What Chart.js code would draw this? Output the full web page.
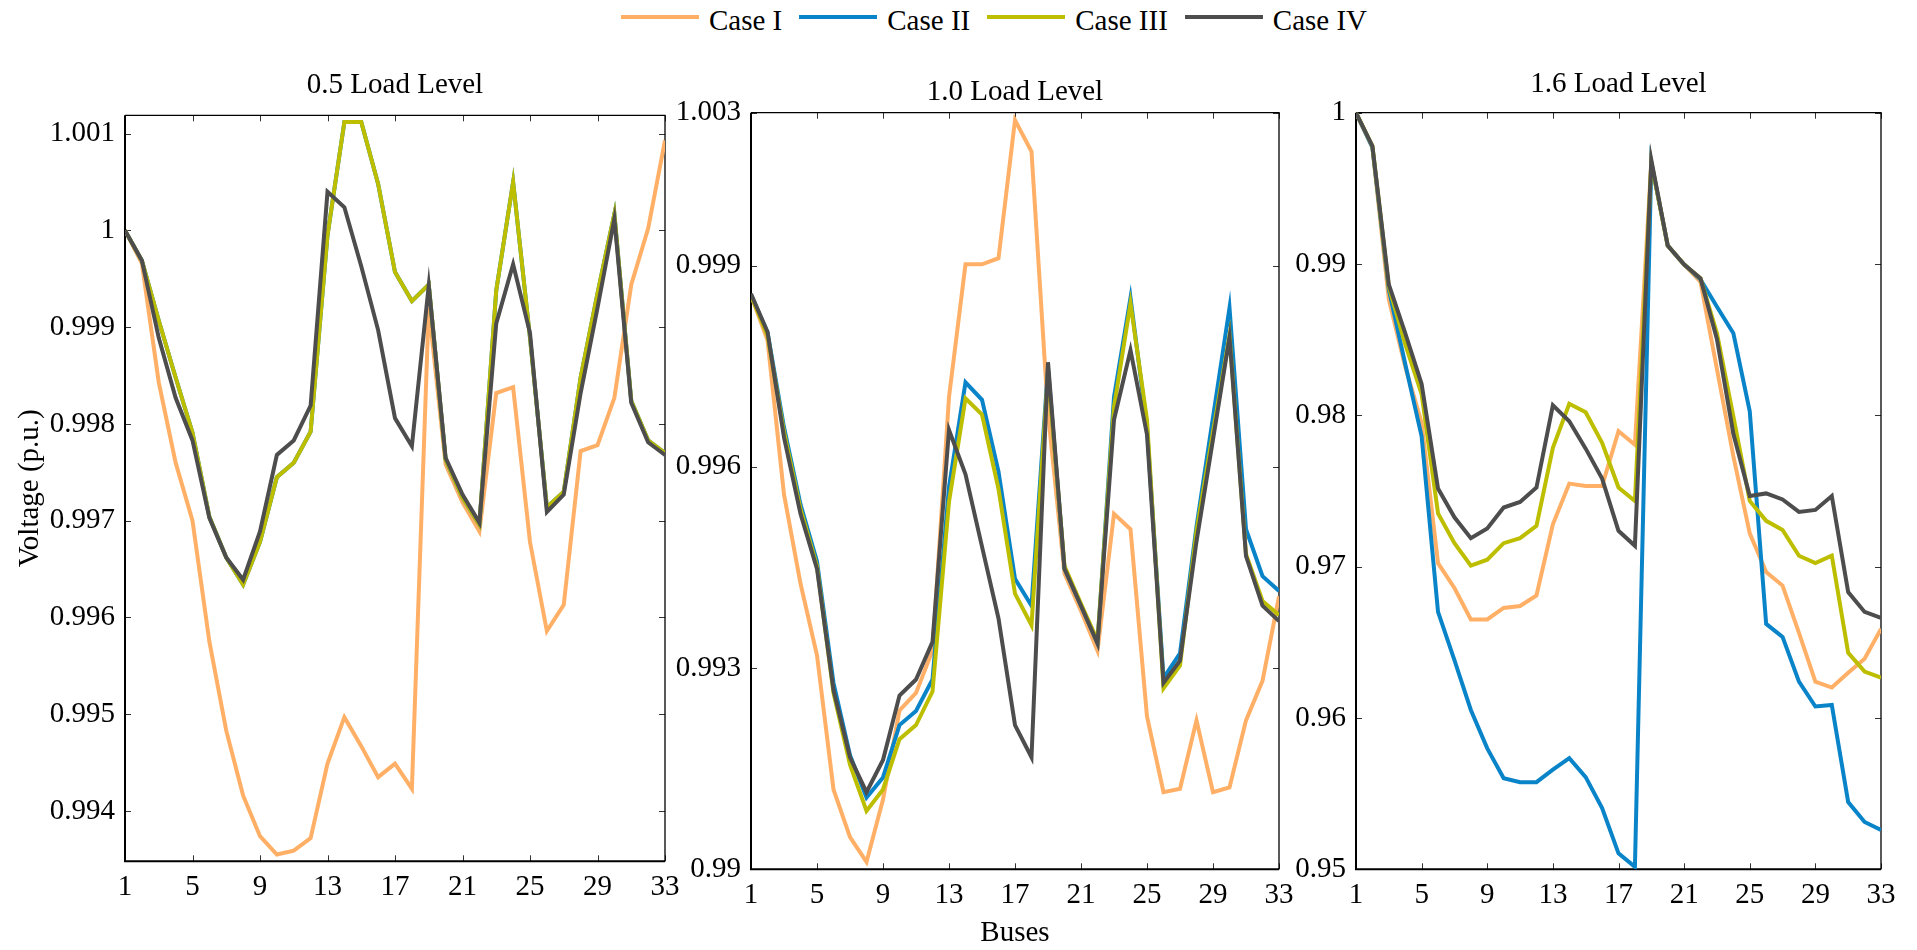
<!DOCTYPE html>
<html>
<head>
<meta charset="utf-8">
<script src="https://cdn.jsdelivr.net/npm/chart.js@4.4.1/dist/chart.umd.min.js"></script>
<style>
  html, body { margin: 0; padding: 0; background: #ffffff; }
  body { width: 1917px; height: 950px; position: relative; overflow: hidden; font-family: 'Liberation Serif', 'Times New Roman', serif; }
  .panel { position: absolute; top: 0; height: 950px; }
  #legend { position: absolute; left: 621px; top: 0; height: 34px; display: flex; align-items: center; }
  .item { display: flex; align-items: center; margin-right: 17px; }
  .swatch { width: 78px; height: 4px; margin-right: 10px; }
  .ltxt { font-size: 29px; color: #000; position: relative; top: 3px; white-space: nowrap; }
</style>
</head>
<body>
<div id="legend"></div>
<div class="panel" style="left:0px;width:700px;"><canvas id="c1"></canvas></div>
<div class="panel" style="left:651px;width:660px;"><canvas id="c2"></canvas></div>
<div class="panel" style="left:1256px;width:661px;"><canvas id="c3"></canvas></div>
<script>
// ---------------- data ----------------
const buses = [1,2,3,4,5,6,7,8,9,10,11,12,13,14,15,16,17,18,19,20,21,22,23,24,25,26,27,28,29,30,31,32,33];
const busTicks = [1,5,9,13,17,21,25,29,33];
const caseNames = ['Case I','Case II','Case III','Case IV'];
const caseColors = ['#FFB066','#0A84C8','#BEBE00','#4D4D4D'];
const panelTitles = ['0.5 Load Level','1.0 Load Level','1.6 Load Level'];

// 0.5 load level
const caseI_05   = [1.00000,0.99966,0.99843,0.99760,0.99700,0.99575,0.99483,0.99416,0.99374,0.99355,0.99359,0.99372,0.99449,0.99497,0.99467,0.99435,0.99449,0.99423,0.99920,0.99758,0.99719,0.99689,0.99832,0.99838,0.99678,0.99586,0.99613,0.99772,0.99778,0.99827,0.99944,1.00002,1.00093];
const caseII_05  = [1.00000,0.99969,0.99907,0.99848,0.99791,0.99704,0.99662,0.99634,0.99678,0.99745,0.99760,0.99792,0.99995,1.00112,1.00112,1.00048,0.99957,0.99927,0.99944,0.99763,0.99724,0.99696,0.99938,1.00050,0.99889,0.99714,0.99730,0.99848,0.99935,1.00017,0.99824,0.99783,0.99770];
const caseIII_05 = [1.00000,0.99969,0.99907,0.99848,0.99791,0.99704,0.99662,0.99634,0.99678,0.99745,0.99760,0.99792,0.99995,1.00112,1.00112,1.00048,0.99957,0.99927,0.99944,0.99763,0.99724,0.99696,0.99938,1.00050,0.99889,0.99714,0.99730,0.99848,0.99935,1.00017,0.99824,0.99783,0.99770];
const caseIV_05  = [1.00000,0.99969,0.99889,0.99827,0.99783,0.99703,0.99662,0.99639,0.99689,0.99768,0.99783,0.99819,1.00040,1.00024,0.99963,0.99897,0.99806,0.99777,0.99943,0.99765,0.99727,0.99698,0.99904,0.99965,0.99894,0.99709,0.99727,0.99832,0.99920,1.00012,0.99822,0.99781,0.99768];

// 1.0 load level
const caseI_10   = [0.99856,0.99789,0.99559,0.99426,0.99319,0.99119,0.99048,0.99011,0.99104,0.99237,0.99263,0.99326,0.99704,0.99902,0.99902,0.99911,1.00117,1.00070,0.99680,0.99441,0.99385,0.99326,0.99530,0.99507,0.99228,0.99115,0.99120,0.99222,0.99115,0.99122,0.99222,0.99281,0.99407];
const caseII_10  = [0.99856,0.99801,0.99659,0.99544,0.99459,0.99278,0.99170,0.99107,0.99137,0.99215,0.99236,0.99283,0.99570,0.99726,0.99700,0.99593,0.99433,0.99393,0.99748,0.99448,0.99393,0.99337,0.99704,0.99852,0.99659,0.99285,0.99322,0.99511,0.99674,0.99837,0.99507,0.99437,0.99415];
const caseIII_10 = [0.99856,0.99796,0.99652,0.99537,0.99452,0.99263,0.99156,0.99087,0.99119,0.99194,0.99215,0.99265,0.99548,0.99702,0.99678,0.99567,0.99411,0.99364,0.99741,0.99452,0.99396,0.99341,0.99689,0.99844,0.99670,0.99270,0.99304,0.99504,0.99652,0.99796,0.99470,0.99400,0.99379];
const caseIV_10  = [0.99858,0.99801,0.99644,0.99530,0.99448,0.99267,0.99167,0.99115,0.99163,0.99259,0.99283,0.99339,0.99655,0.99589,0.99481,0.99374,0.99215,0.99167,0.99756,0.99448,0.99393,0.99337,0.99670,0.99774,0.99648,0.99278,0.99311,0.99489,0.99641,0.99793,0.99467,0.99393,0.99370];

// 1.6 load level
const caseI_16   = [1.00000,0.99770,0.98766,0.98322,0.97950,0.97023,0.96859,0.96651,0.96651,0.96727,0.96740,0.96809,0.97280,0.97549,0.97533,0.97533,0.97895,0.97806,0.99671,0.99122,0.98997,0.98882,0.98306,0.97730,0.97220,0.96964,0.96875,0.96562,0.96240,0.96201,0.96299,0.96391,0.96589];
const caseII_16  = [1.00000,0.99770,0.98832,0.98339,0.97862,0.96701,0.96382,0.96053,0.95799,0.95602,0.95576,0.95576,0.95658,0.95734,0.95609,0.95405,0.95105,0.95016,0.99671,0.99122,0.98997,0.98898,0.98717,0.98543,0.98026,0.96622,0.96536,0.96240,0.96076,0.96086,0.95444,0.95313,0.95260];
const caseIII_16 = [1.00000,0.99780,0.98849,0.98470,0.98141,0.97352,0.97155,0.97007,0.97046,0.97155,0.97188,0.97270,0.97786,0.98076,0.98020,0.97819,0.97523,0.97434,0.99671,0.99122,0.98997,0.98905,0.98543,0.97993,0.97434,0.97303,0.97243,0.97072,0.97023,0.97072,0.96431,0.96306,0.96266];
const caseIV_16  = [1.00000,0.99780,0.98865,0.98543,0.98207,0.97516,0.97326,0.97188,0.97253,0.97391,0.97428,0.97523,0.98066,0.97961,0.97780,0.97582,0.97237,0.97138,0.99688,0.99122,0.98997,0.98905,0.98503,0.97878,0.97467,0.97484,0.97444,0.97362,0.97375,0.97467,0.96832,0.96701,0.96661];

// y axis ranges and ticks
const yRange05 = [0.99348, 1.00119];
const yTicks05 = [0.994,0.995,0.996,0.997,0.998,0.999,1.000,1.001];
const yLabels05 = ['0.994','0.995','0.996','0.997','0.998','0.999','1','1.001'];
const yRange10 = [0.99, 1.00128];
const yTicks10 = [0.990,0.993,0.996,0.999,1.00128];
const yLabels10 = ['0.99','0.993','0.996','0.999','1.003'];
const yRange16 = [0.95, 1.0];
const yTicks16 = [0.95,0.96,0.97,0.98,0.99,1.0];
const yLabels16 = ['0.95','0.96','0.97','0.98','0.99','1'];

// ---------------- legend (HTML) ----------------
const legendEl = document.getElementById('legend');
caseNames.forEach((n, i) => {
  const it = document.createElement('div'); it.className = 'item';
  const sw = document.createElement('span'); sw.className = 'swatch'; sw.style.background = caseColors[i];
  const tx = document.createElement('span'); tx.className = 'ltxt'; tx.textContent = n;
  it.appendChild(sw); it.appendChild(tx); legendEl.appendChild(it);
});

// ---------------- chart helpers ----------------
const FONT = "'Liberation Serif', 'Times New Roman', serif";

const frameTicks = {
  id: 'frameTicks',
  beforeDatasetsDraw(chart) {
    const {ctx, chartArea: a, scales: {x, y}} = chart;
    ctx.save();
    ctx.strokeStyle = '#333333';
    ctx.lineWidth = 1;
    const L = 6;
    ctx.beginPath();
    x.ticks.forEach(t => {
      const px = Math.round(x.getPixelForValue(t.value)) + 0.5;
      ctx.moveTo(px, a.bottom); ctx.lineTo(px, a.bottom - L);
      ctx.moveTo(px, a.top); ctx.lineTo(px, a.top + L);
    });
    y.ticks.forEach(t => {
      const py = Math.round(y.getPixelForValue(t.value)) + 0.5;
      ctx.moveTo(a.left, py); ctx.lineTo(a.left + L, py);
      ctx.moveTo(a.right, py); ctx.lineTo(a.right - L, py);
    });
    ctx.stroke();
    ctx.strokeStyle = '#000000';
    ctx.lineWidth = 1.3;
    ctx.beginPath();
    ctx.moveTo(a.left, a.top); ctx.lineTo(a.right, a.top); ctx.lineTo(a.right, a.bottom);
    ctx.stroke();
    ctx.lineWidth = 2;
    ctx.beginPath();
    ctx.moveTo(a.left, a.top); ctx.lineTo(a.left, a.bottom); ctx.lineTo(a.right, a.bottom);
    ctx.stroke();
    ctx.restore();
  }
};

function makePanel(id, cfg) {
  const datasets = cfg.series.map((vals, i) => ({
    label: caseNames[i],
    data: buses.map((b, k) => ({x: b, y: vals[k]})),
    borderColor: caseColors[i],
    backgroundColor: caseColors[i],
    borderWidth: 4,
    pointRadius: 0,
    tension: 0,
    fill: false,
    order: caseNames.length - 1 - i   // later cases drawn on top
  }));
  return new Chart(document.getElementById(id), {
    type: 'line',
    data: { datasets },
    options: {
      responsive: true,
      maintainAspectRatio: false,
      animation: false,
      devicePixelRatio: 1,
      layout: { padding: { top: cfg.padTop, right: cfg.padRight, bottom: 0, left: 0 } },
      plugins: {
        legend: { display: false },
        tooltip: { enabled: false },
        title: {
          display: true, text: cfg.title, fullSize: false, color: '#000',
          font: { family: FONT, size: 29, weight: 'normal', lineHeight: 1 },
          padding: { top: 0, bottom: cfg.titleGap }
        }
      },
      scales: {
        x: {
          type: 'linear', min: 1, max: 33,
          grid: { display: false, drawTicks: false },
          border: { display: false },
          afterBuildTicks: s => { s.ticks = busTicks.map(v => ({value: v})); },
          afterFit: s => { s.height = cfg.xHeight; },
          ticks: { color: '#000', padding: 9, autoSkip: false, maxRotation: 0,
                   font: { family: FONT, size: 29 }, callback: v => String(v) },
          title: { display: !!cfg.xTitle, text: cfg.xTitle || '', color: '#000',
                   font: { family: FONT, size: 29, lineHeight: 1 }, padding: { top: 0, bottom: 2.5 } }
        },
        y: {
          type: 'linear', min: cfg.yRange[0], max: cfg.yRange[1],
          grid: { display: false, drawTicks: false },
          border: { display: false },
          afterBuildTicks: s => { s.ticks = cfg.yTicks.map(v => ({value: v})); },
          afterFit: s => { s.width = cfg.yWidth; },
          ticks: { color: '#000', padding: 10, autoSkip: false,
                   font: { family: FONT, size: 29 }, callback: (v, i) => cfg.yLabels[i] },
          title: { display: !!cfg.yTitle, text: cfg.yTitle || '', color: '#000',
                   font: { family: FONT, size: 29, lineHeight: 1 }, padding: { top: 15.5, bottom: 0 } }
        }
      }
    },
    plugins: [frameTicks]
  });
}

makePanel('c1', {
  title: panelTitles[0], series: [caseI_05, caseII_05, caseIII_05, caseIV_05],
  yRange: yRange05, yTicks: yTicks05, yLabels: yLabels05,
  padTop: 70.5, titleGap: 15.8, xHeight: 88.7, yWidth: 125, padRight: 35,
  yTitle: 'Voltage (p.u.)'
});
makePanel('c2', {
  title: panelTitles[1], series: [caseI_10, caseII_10, caseIII_10, caseIV_10],
  yRange: yRange10, yTicks: yTicks10, yLabels: yLabels10,
  padTop: 77.5, titleGap: 6.2, xHeight: 80.7, yWidth: 100, padRight: 32,
  xTitle: 'Buses'
});
makePanel('c3', {
  title: panelTitles[2], series: [caseI_16, caseII_16, caseIII_16, caseIV_16],
  yRange: yRange16, yTicks: yTicks16, yLabels: yLabels16,
  padTop: 69.5, titleGap: 14.2, xHeight: 80.7, yWidth: 100, padRight: 36
});
</script>
</body>
</html>
